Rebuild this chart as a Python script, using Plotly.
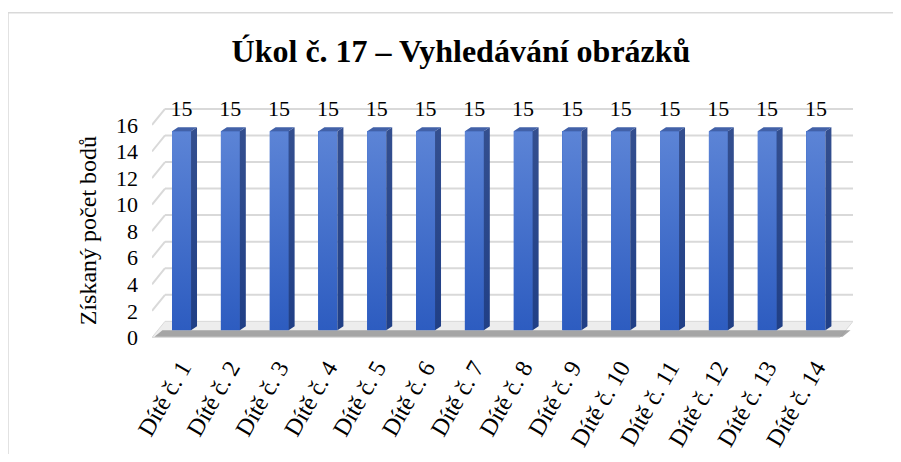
import plotly.graph_objects as go

categories = ["Dítě č. %d" % i for i in range(1, 15)]
values = [15] * 14
y_ticks = [0, 2, 4, 6, 8, 10, 12, 14, 16]
title_text = "Úkol č. 17 – Vyhledávání obrázků"
y_title = "Získaný počet bodů"

FONT = "Liberation Serif, Times New Roman, serif"
OFF = 8  # page body margin
W, H = 901 - 2 * OFF, 462 - 2 * OFF
L, R, T, B = 152 - OFF, W - (853 - OFF), 105 - OFF, H - (347.6 - OFF)
XR = [-0.605, 13.76]
YR = [-0.8, 17.5]
PW, PH = W - L - R, H - T - B
px_x = PW / (XR[1] - XR[0])
px_y = PH / (YR[1] - YR[0])

# depth offsets (pixels -> data units)
back_dx, back_dy = 13 / px_x, 16 / px_y
bar_base = 7 / px_y
bar_w = 19 / px_x
side_dx, side_dy = 6 / px_x, 4 / px_y

xs = list(range(len(categories)))

fig = go.Figure()

shapes = []
# chart border (top and left edges visible in frame)
bx0 = (8 - OFF - L) / PW
by1 = (H - B - (13 - OFF)) / PH
shapes.append(dict(type="line", xref="paper", yref="paper", x0=bx0, x1=(W - L) / PW + 0.02,
                   y0=by1, y1=by1, line=dict(color="#d9d9d9", width=1.5), layer="below"))
shapes.append(dict(type="line", xref="paper", yref="paper", x0=bx0, x1=bx0,
                   y0=by1, y1=-B / PH - 0.05, line=dict(color="#d9d9d9", width=1.5), layer="below"))
# gridlines (front slant + back horizontal)
for v in y_ticks:
    if v == 0:
        continue
    shapes.append(dict(type="line", xref="x", yref="y", x0=XR[0], y0=v,
                       x1=XR[0] + back_dx, y1=v + back_dy,
                       line=dict(color="#d9d9d9", width=2), layer="below"))
    shapes.append(dict(type="line", xref="x", yref="y", x0=XR[0] + back_dx, y0=v + back_dy,
                       x1=XR[1], y1=v + back_dy,
                       line=dict(color="#d9d9d9", width=2), layer="below"))
# floor
shapes.append(dict(type="path", xref="x", yref="y",
                   path=f"M {XR[0]},0 L {XR[0]+back_dx},{back_dy} L {XR[1]},{back_dy} L {XR[1]-back_dx},0 Z",
                   fillcolor="#ededed", line=dict(color="#d9d9d9", width=1), layer="below"))
shapes.append(dict(type="path", xref="x", yref="y",
                   path=f"M {XR[0]+0.05},{0.05} L {XR[0]+0.05+8/px_x},{bar_base} L {XR[1]-0.05},{bar_base} L {XR[1]-0.05-8/px_x},{0.05} Z",
                   fillcolor="#8c8c8c", line=dict(width=0), layer="below", opacity=0.75))

# front, side and top faces
fx, fy, sx, sy, tx, ty = [], [], [], [], [], []
for x, v in zip(xs, values):
    r = x + bar_w / 2
    l = x - bar_w / 2
    fx += [l, r, r, l, l, None]
    fy += [bar_base, bar_base, bar_base + v, bar_base + v, bar_base, None]
    sx += [r, r + side_dx, r + side_dx, r, r, None]
    sy += [bar_base, bar_base + side_dy, bar_base + v + side_dy, bar_base + v, bar_base, None]
    tx += [l, l + side_dx, r + side_dx, r, l, None]
    ty += [bar_base + v, bar_base + v + side_dy, bar_base + v + side_dy, bar_base + v, bar_base + v, None]

fig.add_trace(go.Bar(x=xs, y=values, base=[bar_base] * len(values), width=bar_w,
                     marker=dict(color="#4471c9", line=dict(width=0)),
                     hoverinfo="skip", showlegend=False))
fig.add_trace(go.Scatter(x=fx, y=fy, mode="lines", fill="toself",
                         fillgradient=dict(type="vertical",
                                           colorscale=[[0, "#2d5cc0"], [1, "#5c84d6"]]),
                         line=dict(width=0, color="#4471c9"), hoverinfo="skip", showlegend=False))
fig.add_trace(go.Scatter(x=sx, y=sy, mode="lines", fill="toself",
                         fillgradient=dict(type="vertical",
                                           colorscale=[[0, "#203f86"], [1, "#344f8f"]]),
                         line=dict(width=0, color="#2a4a8f"), hoverinfo="skip", showlegend=False))
fig.add_trace(go.Scatter(x=tx, y=ty, mode="lines", fill="toself", fillcolor="#4261a8",
                         line=dict(width=0, color="#4261a8"), hoverinfo="skip", showlegend=False))
# data labels
fig.add_trace(go.Scatter(x=xs, y=[v + 2.1 for v in values], mode="text",
                         text=[str(v) for v in values], textposition="middle center",
                         textfont=dict(family=FONT, size=22, color="#000000"),
                         hoverinfo="skip", showlegend=False, cliponaxis=False))

fig.update_layout(
    width=W, height=H,
    margin=dict(l=L, r=R, t=T, b=B),
    paper_bgcolor="white", plot_bgcolor="rgba(0,0,0,0)",
    shapes=shapes,
    bargap=0,
    title=dict(text=f"<b>{title_text}</b>", x=(461 - OFF) / W, xanchor="center", xref="container",
               y=1 - (51 - OFF) / H, yref="container", yanchor="middle",
               font=dict(family=FONT, size=32, color="#000000")),
    xaxis=dict(range=XR, tickmode="array", tickvals=xs, ticktext=categories,
               tickangle=-60, showgrid=False, zeroline=False, showline=False, ticks="",
               automargin=False,
               tickfont=dict(family=FONT, size=24, color="#000000")),
    yaxis=dict(range=YR, tickmode="array", tickvals=y_ticks, ticktext=[str(t) for t in y_ticks],
               showgrid=False, zeroline=False, showline=False, ticks="",
               ticklabelstandoff=13, automargin=False,
               tickfont=dict(family=FONT, size=22, color="#000000")),
    annotations=[dict(text=y_title, xref="paper", yref="paper",
                      x=(88 - OFF - L) / PW, y=(H - B - (231 - OFF)) / PH,
                      xanchor="center", yanchor="middle", textangle=-90, showarrow=False,
                      font=dict(family=FONT, size=24, color="#000000"))],
)

fig.write_html("out.html")
